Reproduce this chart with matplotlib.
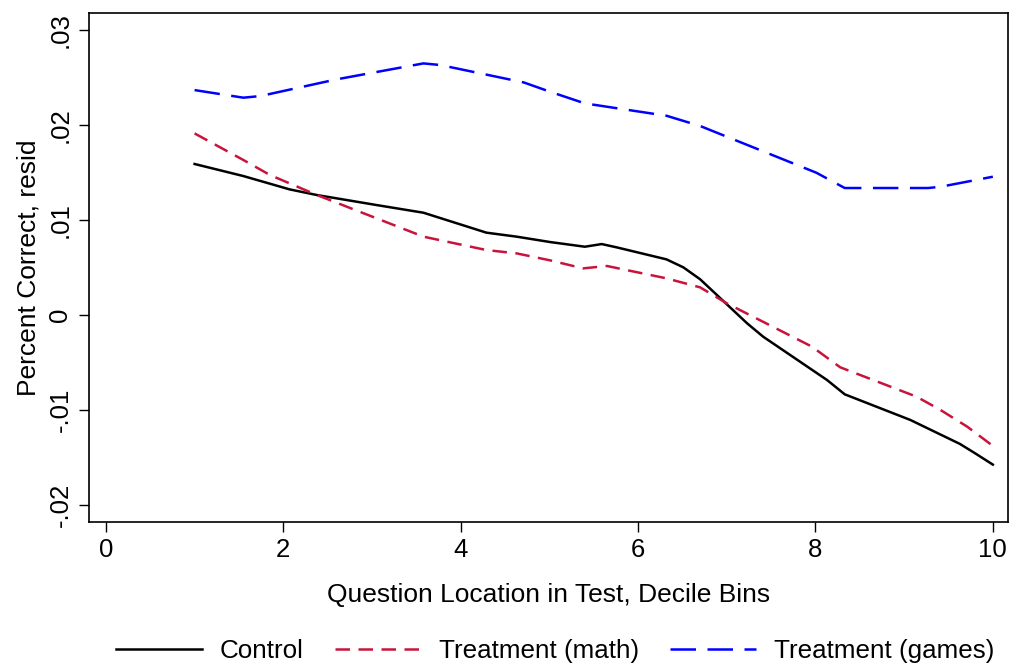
import matplotlib
matplotlib.use("Agg")
import matplotlib.pyplot as plt

plt.rcParams['font.family'] = ['Liberation Sans', 'DejaVu Sans']

# values
ctrl_x = [1.0, 1.55, 2.07, 2.38, 3.05, 3.58, 4.29, 4.63, 5.01, 5.40, 5.59, 5.76,
          6.32, 6.51, 6.70, 7.23, 7.41, 8.13, 8.33, 9.07, 9.63, 9.80, 10.0]
ctrl_y = [0.0159, 0.01463, 0.01323, 0.01263, 0.01158, 0.01077, 0.00867, 0.00825,
          0.00768, 0.00719, 0.00747, 0.00712, 0.00586, 0.00502, 0.00376, -0.00088,
          -0.00228, -0.00684, -0.00835, -0.01105, -0.01358, -0.01456, -0.01575]

math_x = [1.0, 1.55, 1.85, 2.38, 3.58, 4.29, 4.63, 5.01, 5.38, 5.65, 6.32, 6.70,
          7.0, 7.96, 8.28, 9.14, 9.41, 9.71, 10.0]
math_y = [0.01912, 0.01632, 0.01474, 0.01263, 0.00825, 0.00684, 0.00649, 0.00575,
          0.00491, 0.00516, 0.00386, 0.00291, 0.00123, -0.00333, -0.00551,
          -0.0086, -0.0100, -0.01175, -0.01378]

games_x = [1.0, 1.55, 1.74, 2.60, 3.58, 3.77, 4.71, 5.01, 5.40, 6.32, 6.70,
           8.01, 8.33, 9.27, 9.41, 10.0]
games_y = [0.02368, 0.02288, 0.02305, 0.02481, 0.02649, 0.02632, 0.02449, 0.02350,
           0.02228, 0.02098, 0.0199, 0.01498, 0.01337, 0.01337, 0.0135, 0.01456]

xticks = [0, 2, 4, 6, 8, 10]
yticks = [-0.02, -0.01, 0, 0.01, 0.02, 0.03]
ytick_labels = ['-.02', '-.01', '0', '.01', '.02', '.03']

fig = plt.figure(figsize=(10.13, 6.65), dpi=100)
ax = fig.add_axes([0.0879, 0.2155, 0.9071, 0.765])

ax.plot(ctrl_x, ctrl_y, color='black', lw=1.8, label='Control')
ax.plot(math_x, math_y, color='#C8143C', lw=1.8, dashes=(5.8, 3.4), label='Treatment (math)')
ax.plot(games_x, games_y, color='#0000FF', lw=1.8, dashes=(10.2, 4.6), label='Treatment (games)')

ax.set_xlim(-0.19, 10.17)
ax.set_ylim(-0.02176, 0.0318)
ax.set_xticks(xticks)
ax.set_xticklabels([str(t) for t in xticks])
ax.set_yticks(yticks)
ax.set_yticklabels(ytick_labels, rotation=90, va='center')
ax.tick_params(direction='out', length=7, width=1, labelsize=18.5, pad=5)
for s in ax.spines.values():
    s.set_linewidth(1.2)

ax.set_xlabel('Question Location in Test, Decile Bins', fontsize=19, labelpad=15)
ax.set_ylabel('Percent Correct, resid', fontsize=19, labelpad=6)

fig.legend(loc='lower center', bbox_to_anchor=(0.548, -0.032), ncol=3, frameon=False,
           fontsize=18.7, handlelength=3.3, columnspacing=1.2, handletextpad=0.7)

fig.savefig('out.png', dpi=100)
